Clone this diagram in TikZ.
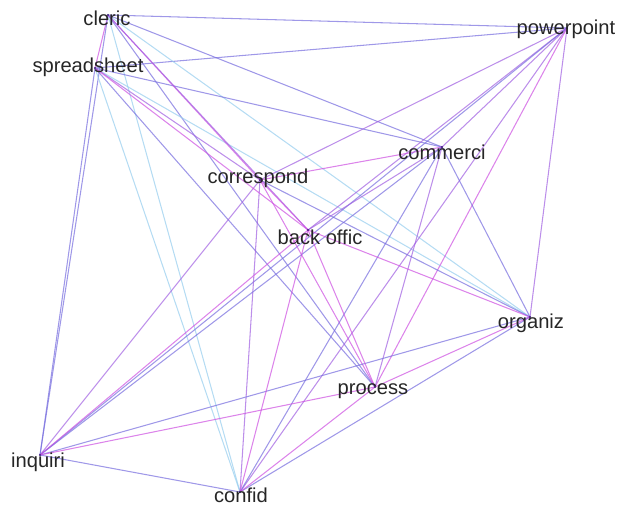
\documentclass[tikz,border=0pt]{standalone}
\usepackage{fontspec}
\setmainfont{Liberation Sans}
\definecolor{eblue}{RGB}{118,108,222}
\definecolor{elight}{RGB}{150,205,238}
\definecolor{emag}{RGB}{205,80,225}
\definecolor{epurp}{RGB}{160,95,225}
\definecolor{dotc}{RGB}{60,30,120}

\begin{document}
\begin{tikzpicture}[x=0.03cm,y=-0.03cm,
    edge/.style={line width=0.9pt,opacity=0.7},
    lbl/.style={text=black!85,font=\fontsize{17.2}{19}\selectfont,inner sep=0pt}]
      \useasboundingbox (0,0) rectangle (623,506) ;
      % term positions
      \coordinate (cleric) at (108,15) ;
      \coordinate (powerpoint) at (567,28) ;
      \coordinate (spreadsheet) at (95,68) ;
      \coordinate (correspond) at (260,180) ;
      \coordinate (commerci) at (442,147) ;
      \coordinate (backoffic) at (308,230) ;
      \coordinate (organiz) at (530,317) ;
      \coordinate (process) at (375,387) ;
      \coordinate (inquiri) at (40,455) ;
      \coordinate (confid) at (240,492) ;
      % links
      \foreach \a/\b/\c in {cleric/powerpoint/eblue, spreadsheet/powerpoint/eblue,
          cleric/spreadsheet/emag, cleric/inquiri/eblue, spreadsheet/inquiri/eblue,
          cleric/commerci/eblue, cleric/organiz/elight, cleric/process/eblue,
          cleric/confid/elight, spreadsheet/commerci/eblue, spreadsheet/organiz/elight,
          spreadsheet/correspond/epurp, spreadsheet/process/eblue, spreadsheet/confid/elight,
          powerpoint/correspond/epurp, powerpoint/backoffic/epurp, powerpoint/commerci/epurp,
          powerpoint/inquiri/eblue, powerpoint/confid/epurp, powerpoint/process/emag,
          powerpoint/organiz/epurp, correspond/organiz/eblue, correspond/inquiri/epurp,
          correspond/confid/epurp, correspond/process/emag, commerci/backoffic/epurp,
          commerci/organiz/eblue, commerci/process/epurp, commerci/confid/eblue,
          commerci/inquiri/eblue, organiz/inquiri/eblue, organiz/confid/eblue,
          inquiri/confid/eblue}
        \draw[edge,\c] (\a) -- (\b) ;
      % the stronger magenta ones on top
      \foreach \a/\b/\c in {cleric/correspond/emag, cleric/backoffic/epurp,
          spreadsheet/backoffic/emag, correspond/backoffic/emag, correspond/commerci/emag,
          backoffic/organiz/emag, backoffic/process/emag, backoffic/inquiri/emag,
          backoffic/confid/emag, organiz/process/emag, process/inquiri/emag,
          process/confid/emag}
        \draw[edge,\c] (\a) -- (\b) ;
      \foreach \n in {cleric,powerpoint,spreadsheet,correspond,commerci,
          backoffic,organiz,process,inquiri,confid}
        \fill[dotc] (\n) circle (1.2) ;
      % labels
      \node[lbl] (cleric-l) at (107,18) {cleric} ;
      \node[lbl] (powerpoint-l) at (566,29) {powerpoint} ;
      \node[lbl] (spreadsheet-l) at (88,67) {spreadsheet} ;
      \node[lbl] (correspond-l) at (258,178) {correspond} ;
      \node[lbl] (commerci-l) at (442,152) {commerci} ;
      \node[lbl] (backoffic-l) at (320,237) {back offic} ;
      \node[lbl] (organiz-l) at (531,323) {organiz} ;
      \node[lbl] (process-l) at (373,391) {process} ;
      \node[lbl] (inquiri-l) at (38,462) {inquiri} ;
      \node[lbl] (confid-l) at (241,495) {confid} ;
\end{tikzpicture}
\end{document}
